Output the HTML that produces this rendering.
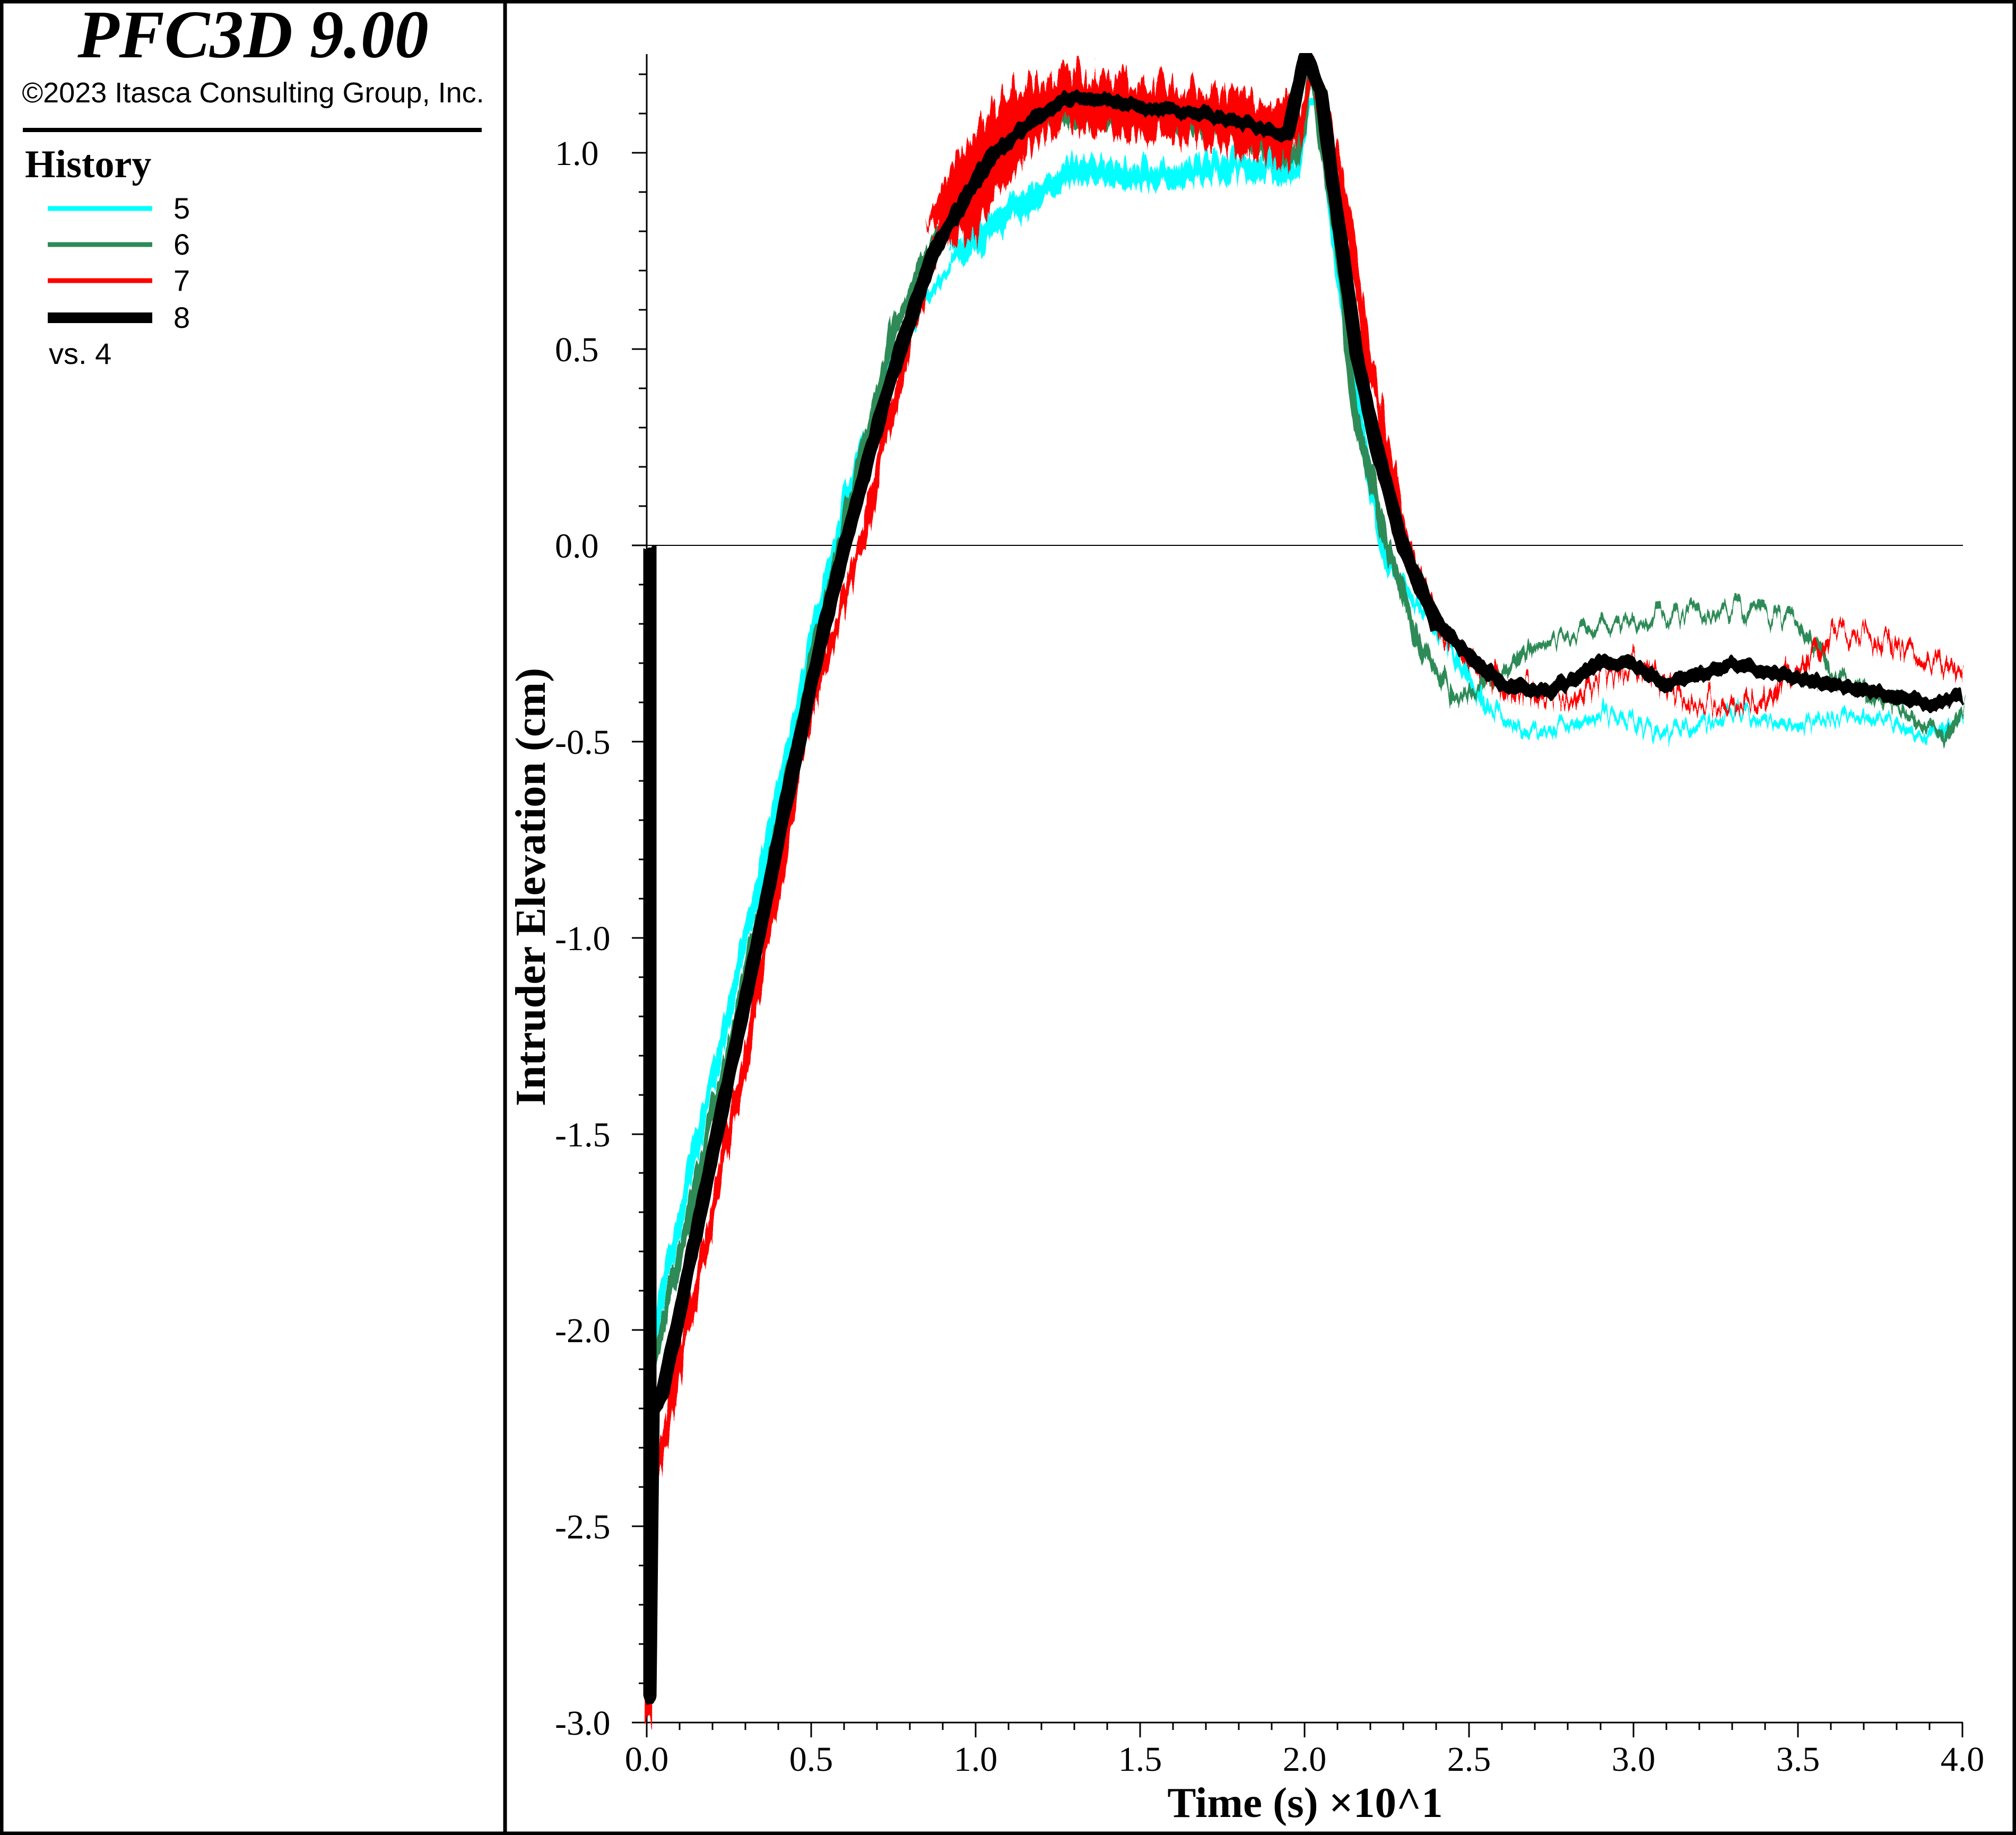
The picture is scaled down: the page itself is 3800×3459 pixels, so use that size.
<!DOCTYPE html>
<html><head><meta charset="utf-8"><style>
html,body{margin:0;padding:0;background:#fff}
svg{display:block}
</style></head><body>
<svg xmlns="http://www.w3.org/2000/svg" width="3800" height="3459" viewBox="0 0 3800 3459">
<defs>
<filter id="nz" filterUnits="userSpaceOnUse" x="0" y="0" width="3800" height="3459" color-interpolation-filters="sRGB">
<feTurbulence type="turbulence" baseFrequency="0.06 0.003" numOctaves="3" seed="4" result="t"/>
<feColorMatrix in="t" type="matrix" values="0 0 0 0 0.5  0 1.6 0 0 -0.05  0 0 0 0 0  0 0 0 0 1" result="m"/>
<feDisplacementMap in="SourceGraphic" in2="m" scale="45" xChannelSelector="R" yChannelSelector="G"/>
</filter>
<filter id="nz2" filterUnits="userSpaceOnUse" x="0" y="0" width="3800" height="3459" color-interpolation-filters="sRGB">
<feTurbulence type="turbulence" baseFrequency="0.07 0.003" numOctaves="3" seed="9" result="t"/>
<feColorMatrix in="t" type="matrix" values="0 0 0 0 0.5  0 1.6 0 0 -0.05  0 0 0 0 0  0 0 0 0 1" result="m"/>
<feDisplacementMap in="SourceGraphic" in2="m" scale="60" xChannelSelector="R" yChannelSelector="G"/>
</filter>
<filter id="nz3" filterUnits="userSpaceOnUse" x="0" y="0" width="3800" height="3459" color-interpolation-filters="sRGB">
<feTurbulence type="turbulence" baseFrequency="0.04 0.003" numOctaves="2" seed="2" result="t"/>
<feColorMatrix in="t" type="matrix" values="0 0 0 0 0.5  0 1.6 0 0 -0.05  0 0 0 0 0  0 0 0 0 1" result="m"/>
<feDisplacementMap in="SourceGraphic" in2="m" scale="16" xChannelSelector="R" yChannelSelector="G"/>
</filter>
<clipPath id="c"><rect x="1190" y="100" width="2530" height="3160"/></clipPath>
</defs>
<rect x="0" y="0" width="3800" height="3459" fill="#fff"/>
<rect x="3" y="3" width="3794" height="3453" fill="none" stroke="#000" stroke-width="7"/>
<line x1="952" y1="0" x2="952" y2="3459" stroke="#000" stroke-width="7"/>
<text x="477" y="108" font-family="Liberation Serif, serif" font-weight="bold" font-style="italic" font-size="128" text-anchor="middle">PFC3D 9.00</text>
<text x="477" y="193" font-family="Liberation Sans, sans-serif" font-size="54" text-anchor="middle">©2023 Itasca Consulting Group, Inc.</text>
<line x1="43" y1="245" x2="908" y2="245" stroke="#000" stroke-width="8"/>
<text x="47" y="334" font-family="Liberation Serif, serif" font-weight="bold" font-size="74">History</text>
<line x1="90" y1="393" x2="287" y2="393" stroke="#00ffff" stroke-width="9"/>
<line x1="90" y1="461" x2="287" y2="461" stroke="#2e8b57" stroke-width="9"/>
<line x1="90" y1="529" x2="287" y2="529" stroke="#ff0000" stroke-width="9"/>
<line x1="90" y1="599" x2="287" y2="599" stroke="#000" stroke-width="20"/>
<g font-family="Liberation Sans, sans-serif" font-size="56">
<text x="327" y="412">5</text><text x="327" y="480">6</text><text x="327" y="548">7</text><text x="327" y="618">8</text>
<text x="92" y="686">vs. 4</text></g>

<g stroke="#000" stroke-width="3" fill="none">
<line x1="1191" y1="3247" x2="3700" y2="3247"/>
<line x1="1219" y1="102" x2="1219" y2="3247"/>
<path d="M1219,3247V3275M1529,3247V3275M1839,3247V3275M2149,3247V3275M2459,3247V3275M2769,3247V3275M3079,3247V3275M3389,3247V3275M3699,3247V3275
M1281,3247V3261M1343,3247V3261M1405,3247V3261M1467,3247V3261M1591,3247V3261M1653,3247V3261M1715,3247V3261M1777,3247V3261M1901,3247V3261M1963,3247V3261M2025,3247V3261M2087,3247V3261M2211,3247V3261M2273,3247V3261M2335,3247V3261M2397,3247V3261M2521,3247V3261M2583,3247V3261M2645,3247V3261M2707,3247V3261M2831,3247V3261M2893,3247V3261M2955,3247V3261M3017,3247V3261M3141,3247V3261M3203,3247V3261M3265,3247V3261M3327,3247V3261M3451,3247V3261M3513,3247V3261M3575,3247V3261M3637,3247V3261"/>
<path d="M1191,3247H1219M1191,2877H1219M1191,2507H1219M1191,2138H1219M1191,1768H1219M1191,1398H1219M1191,1028H1219M1191,658H1219M1191,288H1219
M1204,3173H1219M1204,3099H1219M1204,3025H1219M1204,2951H1219M1204,2803H1219M1204,2729H1219M1204,2655H1219M1204,2581H1219M1204,2433H1219M1204,2359H1219M1204,2285H1219M1204,2211H1219M1204,2064H1219M1204,1990H1219M1204,1916H1219M1204,1842H1219M1204,1694H1219M1204,1620H1219M1204,1546H1219M1204,1472H1219M1204,1324H1219M1204,1250H1219M1204,1176H1219M1204,1102H1219M1204,954H1219M1204,880H1219M1204,806H1219M1204,732H1219M1204,584H1219M1204,510H1219M1204,436H1219M1204,362H1219M1204,214H1219M1204,140H1219"/>
</g>
<g font-family="Liberation Serif, serif" font-size="66" text-anchor="middle">
<text x="1219" y="3338">0.0</text><text x="1529" y="3338">0.5</text><text x="1839" y="3338">1.0</text><text x="2149" y="3338">1.5</text><text x="2459" y="3338">2.0</text><text x="2769" y="3338">2.5</text><text x="3079" y="3338">3.0</text><text x="3389" y="3338">3.5</text><text x="3699" y="3338">4.0</text>
</g>
<g font-family="Liberation Serif, serif" font-size="66" text-anchor="start">
<text x="1046" y="3270">-3.0</text><text x="1046" y="2900">-2.5</text><text x="1046" y="2530">-2.0</text><text x="1046" y="2161">-1.5</text><text x="1046" y="1791">-1.0</text><text x="1046" y="1421">-0.5</text><text x="1046" y="1051">0.0</text><text x="1046" y="681">0.5</text><text x="1046" y="311">1.0</text>
</g>
<line x1="1219" y1="1028" x2="3700" y2="1028" stroke="#000" stroke-width="2"/>

<g clip-path="url(#c)" fill="none" stroke-linejoin="round">
<g filter="url(#nz)">
<path stroke="#00ffff" stroke-width="14" d="M1219,2544L1231,2507L1405,1768L1529,1213L1591,954L1684,658L1777,510L1901,399L2025,310L2149,325L2335,310L2447,310L2459,214L2490,214L2533,584L2571,843L2614,1065L2707,1176L2800,1324L2893,1383L3017,1339L3141,1383L3265,1339L3389,1361L3513,1339L3637,1383L3699,1339"/>
<path stroke="#00ffff" stroke-width="40" d="M1800,480L1901,399L2025,310L2149,325L2335,310L2440,310"/>
</g>
<g filter="url(#nz)">
<path stroke="#2e8b57" stroke-width="14" d="M1219,2618L1405,1842L1529,1250L1591,991L1684,621L1746,473L1839,288L1963,214L2087,214L2211,214L2335,251L2447,288L2471,140L2521,436L2552,769L2614,1028L2676,1213L2738,1309L2800,1287L2893,1213L3017,1176L3141,1161L3265,1146L3389,1176L3451,1265L3575,1324L3668,1383L3699,1324"/>
<path stroke="#2e8b57" stroke-width="36" d="M1870,260L1963,214L2087,214L2211,214L2335,251L2440,285"/>
</g>
<g filter="url(#nz2)">
<path stroke="#ff0000" stroke-width="14" d="M1222,3247L1224,2800L1231,2803L1405,1990L1529,1324L1622,1028L1715,621L1777,436L1839,288L1932,177L2025,155L2149,177L2273,200L2447,251L2471,140L2521,288L2583,695L2645,991L2707,1176L2831,1287L2955,1309L3079,1250L3203,1324L3327,1309L3451,1191L3575,1213L3699,1265"/>
<path stroke="#ff0000" stroke-width="100" d="M1790,440L1839,320L1932,210L2025,185L2149,200L2273,215L2440,250"/>
</g>
<g filter="url(#nz3)">
<path stroke="#000" stroke-width="25" d="M1225,1028L1225,3195L1231,2655L1250,2618L1405,1879L1529,1287L1591,1028L1653,806L1696,658L1758,473L1870,288L1963,214L2025,177L2087,185L2149,200L2273,214L2428,251L2459,103L2490,177L2556,658L2595,843L2645,1028L2707,1176L2831,1287L2924,1302L3017,1250L3079,1250L3141,1287L3265,1250L3451,1287L3575,1309L3637,1324L3699,1309"/>
</g>
</g>
<text x="2460" y="3425" font-family="Liberation Serif, serif" font-weight="bold" font-size="81" text-anchor="middle">Time (s) ×10^1</text>
<text transform="translate(1027,1672) rotate(-90)" font-family="Liberation Serif, serif" font-weight="bold" font-size="81" text-anchor="middle">Intruder Elevation (cm)</text>
</svg>
</body></html>
